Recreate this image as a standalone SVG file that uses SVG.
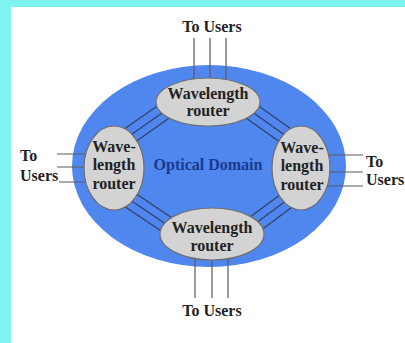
<svg xmlns="http://www.w3.org/2000/svg" width="405" height="343" viewBox="0 0 405 343">
<style>
.t{font-family:"Liberation Serif","Times New Roman",serif;font-weight:bold;font-size:16px;fill:#222}
.rt{text-anchor:middle}
.router{fill:#d3d3d3;stroke:#6f6f6f;stroke-width:1.2}
.link{stroke:#2f3f66;stroke-width:1.2;fill:none}
.user{stroke:#5a5a5a;stroke-width:1.2;fill:none}
</style>
<rect x="0" y="0" width="405" height="343" fill="#7ff3f0"/>
<rect x="11" y="7" width="394" height="336" fill="#ffffff"/>
<g id="domain">
<ellipse cx="209" cy="166" rx="137" ry="101" fill="#4f87ee"/>
<text class="t" x="208" y="170" text-anchor="middle" style="fill:#1b3a8f">Optical Domain</text>
</g>
<g id="connectors">
<line class="link" x1="202.8" y1="94.6" x2="108.8" y2="160.6"/>
<line class="link" x1="198" y1="87.7" x2="104" y2="153.7"/>
<line class="link" x1="193.1" y1="80.7" x2="99.1" y2="146.7"/>
<line class="link" x1="213.2" y1="94.7" x2="306.2" y2="160.7"/>
<line class="link" x1="218.1" y1="87.7" x2="311.1" y2="153.7"/>
<line class="link" x1="223.1" y1="80.8" x2="316.1" y2="146.8"/>
<line class="link" x1="109" y1="175.5" x2="207" y2="241.5"/>
<line class="link" x1="104.2" y1="182.5" x2="202.2" y2="248.5"/>
<line class="link" x1="99.5" y1="189.6" x2="197.5" y2="255.6"/>
<line class="link" x1="306.4" y1="175.2" x2="217.4" y2="241.2"/>
<line class="link" x1="311.4" y1="182.1" x2="222.4" y2="248.1"/>
<line class="link" x1="316.5" y1="188.9" x2="227.5" y2="254.9"/>
<line class="user" x1="194" y1="38" x2="194" y2="92"/>
<line class="user" x1="210" y1="38" x2="210" y2="92"/>
<line class="user" x1="226" y1="38" x2="226" y2="92"/>
<line class="user" x1="195" y1="245" x2="195" y2="298"/>
<line class="user" x1="212" y1="245" x2="212" y2="298"/>
<line class="user" x1="228" y1="245" x2="228" y2="298"/>
<line class="user" x1="57" y1="154" x2="100" y2="154"/>
<line class="user" x1="57" y1="167" x2="100" y2="167"/>
<line class="user" x1="59" y1="182" x2="100" y2="182"/>
<line class="user" x1="315" y1="155" x2="363" y2="155"/>
<line class="user" x1="315" y1="172" x2="363" y2="172"/>
<line class="user" x1="315" y1="186" x2="363" y2="186"/>
</g>
<g id="router-top">
<ellipse class="router" cx="208" cy="102" rx="52" ry="24"/>
<text class="t rt" x="208" y="99">Wavelength</text>
<text class="t rt" x="208" y="116">router</text>
</g>
<g id="router-left">
<ellipse class="router" cx="114" cy="168" rx="30" ry="42"/>
<text class="t rt" x="114" y="152">Wave-</text>
<text class="t rt" x="114" y="170">length</text>
<text class="t rt" x="114" y="189">router</text>
</g>
<g id="router-right">
<ellipse class="router" cx="301" cy="168" rx="29" ry="42"/>
<text class="t rt" x="302" y="153">Wave-</text>
<text class="t rt" x="302" y="171">length</text>
<text class="t rt" x="302" y="190">router</text>
</g>
<g id="router-bottom">
<ellipse class="router" cx="212" cy="234" rx="52" ry="26"/>
<text class="t rt" x="212" y="233">Wavelength</text>
<text class="t rt" x="212" y="251">router</text>
</g>
<g id="users-top"><text class="t rt" x="212" y="32">To Users</text></g>
<g id="users-bottom"><text class="t rt" x="212" y="316">To Users</text></g>
<g id="users-left"><text class="t" x="20" y="161">To</text><text class="t" x="20" y="181">Users</text></g>
<g id="users-right"><text class="t" x="366" y="167">To</text><text class="t" x="366" y="185">Users</text></g>
</svg>
